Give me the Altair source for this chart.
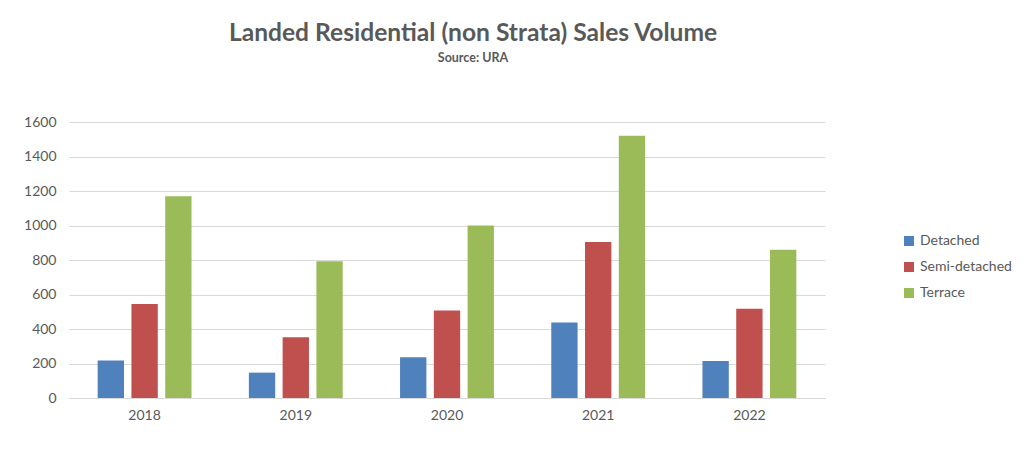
import altair as alt
import pandas as pd

years = ["2018", "2019", "2020", "2021", "2022"]
types = ["Detached", "Semi-detached", "Terrace"]
detached = [218, 147, 236, 437, 215]
semi_detached = [545, 352, 507, 905, 518]
terrace = [1170, 793, 1000, 1521, 859]
colors = ["#4F81BD", "#C0504D", "#9BBB59"]

rows = []
for i, y in enumerate(years):
    for t, vals in zip(types, [detached, semi_detached, terrace]):
        rows.append({"Year": y, "Type": t, "Volume": vals[i]})
df = pd.DataFrame(rows)

FONT = "Lato"
GREY = "#595959"

chart = alt.Chart(df).mark_bar().encode(
    x=alt.X("Year:N", sort=years, title=None,
            scale=alt.Scale(paddingInner=0.33, paddingOuter=0.165),
            axis=alt.Axis(labelAngle=0, ticks=False, domainColor="#D9D9D9",
                          labelColor=GREY, labelFontSize=14, labelFont=FONT,
                          labelPadding=10)),
    xOffset=alt.XOffset("Type:N", sort=types,
                        scale=alt.Scale(paddingInner=0.22, paddingOuter=0.11)),
    y=alt.Y("Volume:Q", title=None,
            scale=alt.Scale(domain=[0, 1600]),
            axis=alt.Axis(values=[0, 200, 400, 600, 800, 1000, 1200, 1400, 1600],
                          format="d",
                          domain=False, ticks=False, gridColor="#D9D9D9",
                          labelColor=GREY, labelFontSize=14, labelFont=FONT,
                          labelPadding=13)),
    color=alt.Color("Type:N", sort=types,
                    scale=alt.Scale(domain=types, range=colors),
                    legend=alt.Legend(title=None, orient="none", legendX=833, legendY=112,
                                      symbolType="square", symbolSize=100,
                                      symbolStrokeWidth=0,
                                      labelFontSize=14, labelFont=FONT, labelColor=GREY,
                                      rowPadding=12, labelOffset=4)),
).properties(
    width=756, height=276,
    title=alt.TitleParams(
        text="Landed Residential (non Strata) Sales Volume",
        subtitle="Source: URA",
        anchor="middle", dx=26, offset=50,
        font=FONT, fontSize=24.6, fontWeight="bold", color=GREY,
        subtitleFont=FONT, subtitleFontSize=12.5, subtitleFontWeight="bold",
        subtitleColor=GREY, subtitlePadding=5,
    ),
    autosize=alt.AutoSizeParams(type="none"),
    padding={"left": 61, "top": 114, "right": 190, "bottom": 50},
).configure_view(stroke=None)

chart.save("out.html", embed_options={"renderer": "svg", "actions": False})
